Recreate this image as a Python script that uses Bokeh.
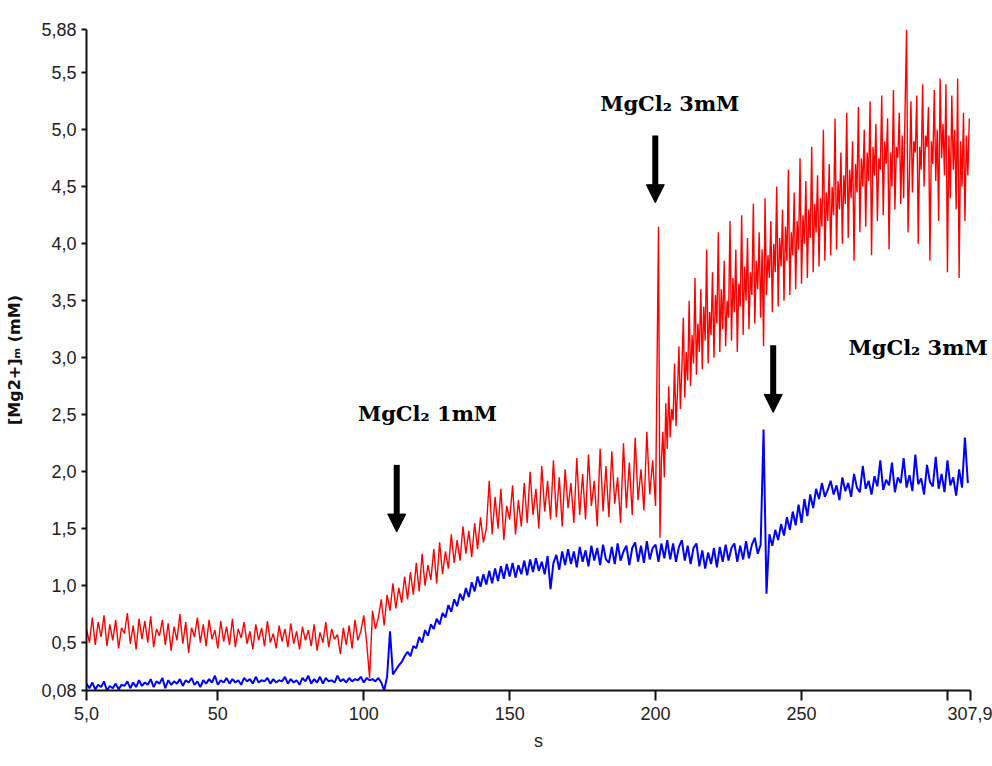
from bokeh.plotting import figure
from bokeh.models import Range1d, FixedTicker, CustomJSTickFormatter, Arrow, NormalHead, Label
from bokeh.embed import file_html
from bokeh.resources import INLINE

# ---- data ----
time_s = list(range(5, 308))                       # blue trace, 1 s apart
red_time_a = list(range(5, 201))                   # red trace before 2nd addition, 1 s apart
red_time_b = [201 + 0.5 * i for i in range(214)]   # red trace after 2nd addition, 0.5 s apart

red_mM_a = [
    0.62, 0.50, 0.72, 0.48, 0.68, 0.55, 0.74, 0.47, 0.66, 0.52,
    0.70, 0.45, 0.63, 0.58, 0.76, 0.49, 0.65, 0.44, 0.71, 0.53,
    0.69, 0.50, 0.73, 0.46, 0.62, 0.56, 0.70, 0.48, 0.67, 0.43,
    0.64, 0.52, 0.75, 0.49, 0.68, 0.41, 0.63, 0.55, 0.72, 0.50,
    0.66, 0.47, 0.70, 0.53, 0.61, 0.45, 0.69, 0.51, 0.64, 0.48,
    0.71, 0.46, 0.62, 0.54, 0.68, 0.49, 0.60, 0.44, 0.66, 0.52,
    0.63, 0.47, 0.69, 0.50, 0.58, 0.45, 0.65, 0.51, 0.62, 0.46,
    0.67, 0.49, 0.60, 0.44, 0.64, 0.52, 0.61, 0.47, 0.66, 0.43,
    0.59, 0.50, 0.68, 0.46, 0.62, 0.53, 0.57, 0.40, 0.63, 0.48,
    0.65, 0.45, 0.70, 0.52, 0.60, 0.74, 0.50, 0.19, 0.78, 0.62,
    0.72, 0.88, 0.65, 0.92, 0.78, 1.02, 0.80, 0.98, 0.85, 1.08,
    0.88, 1.12, 0.92, 1.20, 0.95, 1.28, 1.00, 1.18, 1.05, 1.32,
    1.02, 1.38, 1.10, 1.30, 1.15, 1.45, 1.20, 1.40, 1.22, 1.52,
    1.28, 1.48, 1.25, 1.55, 1.32, 1.60, 1.38, 1.50, 1.92, 1.45,
    1.78, 1.50, 1.85, 1.40, 1.70, 1.58, 1.88, 1.45, 1.75, 1.52,
    1.90, 1.55, 2.00, 1.62, 1.85, 1.50, 2.05, 1.65, 1.92, 1.58,
    2.10, 1.60, 1.95, 1.52, 2.02, 1.68, 1.90, 1.55, 2.12, 1.62,
    1.98, 1.58, 2.15, 1.70, 1.92, 1.52, 2.20, 1.65, 2.05, 1.60,
    2.18, 1.72, 1.95, 1.55, 2.25, 1.68, 2.08, 1.62, 2.30, 1.75,
    2.02, 1.66, 2.35, 1.80, 2.10, 1.70,
]

red_mM_b = [
    4.15, 1.42, 2.10, 2.35, 1.95, 2.60, 2.20, 2.75, 2.30, 2.55,
    2.45, 2.95, 2.40, 2.70, 3.10, 2.55, 2.90, 3.35, 2.65, 3.05,
    2.80, 3.50, 2.75, 3.20, 2.95, 3.70, 2.85, 3.30, 3.05, 3.60,
    2.90, 3.45, 3.15, 3.95, 2.95, 3.40, 3.20, 3.75, 3.00, 3.55,
    3.30, 4.10, 3.05, 3.60, 3.25, 3.85, 3.10, 3.50, 3.35, 4.20,
    3.15, 3.70, 3.40, 3.95, 3.05, 3.65, 3.45, 4.25, 3.20, 3.80,
    3.50, 4.05, 3.25, 3.75, 3.55, 4.35, 3.30, 3.85, 3.60, 4.10,
    3.35, 3.95, 3.10, 4.40, 3.55, 3.90, 3.70, 4.20, 3.40, 4.00,
    3.75, 4.50, 3.45, 4.05, 3.80, 4.30, 3.50, 4.15, 3.85, 4.65,
    3.55, 4.10, 3.90, 4.45, 3.60, 4.20, 3.95, 4.75, 3.65, 4.25,
    4.00, 4.55, 3.70, 4.30, 4.05, 4.85, 3.75, 4.35, 4.10, 4.60,
    3.80, 4.40, 4.15, 5.00, 3.85, 4.45, 4.20, 4.70, 3.90, 4.50,
    4.25, 5.10, 3.95, 4.55, 4.30, 4.80, 4.00, 4.60, 4.35, 5.15,
    4.05, 4.65, 4.40, 4.90, 3.85, 4.70, 4.45, 5.20, 4.10, 4.75,
    4.50, 5.00, 4.15, 4.80, 4.55, 5.25, 3.90, 4.85, 4.60, 5.05,
    4.20, 4.75, 4.65, 5.30, 4.25, 4.90, 4.70, 5.10, 3.95, 4.80,
    4.50, 5.35, 4.30, 4.85, 4.75, 5.15, 4.35, 4.95, 4.40, 5.20,
    5.88, 4.10, 4.60, 5.25, 4.45, 4.90, 4.80, 5.30, 4.00, 4.85,
    4.65, 5.40, 4.50, 4.95, 4.85, 5.20, 3.85, 4.90, 4.70, 5.35,
    4.55, 5.00, 4.20, 5.45, 4.75, 5.05, 4.60, 5.40, 3.75, 4.95,
    4.40, 5.30, 4.65, 5.00, 4.30, 5.45, 3.70, 4.90, 4.50, 5.15,
    4.20, 4.95, 4.60, 5.10,
]

blue_mM = [
    0.14, 0.10, 0.15, 0.09, 0.13, 0.11, 0.16, 0.08, 0.12, 0.10,
    0.14, 0.09, 0.13, 0.12, 0.16, 0.10, 0.15, 0.11, 0.17, 0.12,
    0.15, 0.13, 0.18, 0.11, 0.16, 0.14, 0.19, 0.10, 0.17, 0.13,
    0.16, 0.14, 0.18, 0.12, 0.17, 0.15, 0.19, 0.13, 0.16, 0.11,
    0.17, 0.14, 0.18, 0.15, 0.21, 0.13, 0.17, 0.15, 0.19, 0.14,
    0.18, 0.15, 0.17, 0.13, 0.19, 0.16, 0.18, 0.14, 0.20, 0.15,
    0.17, 0.16, 0.19, 0.14, 0.18, 0.15, 0.17, 0.16, 0.20, 0.14,
    0.18, 0.15, 0.17, 0.13, 0.19, 0.16, 0.21, 0.14, 0.18, 0.15,
    0.20, 0.14, 0.19, 0.16, 0.17, 0.15, 0.21, 0.16, 0.18, 0.15,
    0.19, 0.16, 0.18, 0.17, 0.20, 0.15, 0.19, 0.17, 0.18, 0.16,
    0.19, 0.15, 0.08, 0.20, 0.60, 0.22, 0.26, 0.30, 0.33, 0.38,
    0.42, 0.38, 0.47, 0.45, 0.55, 0.50, 0.61, 0.56, 0.66, 0.62,
    0.71, 0.66, 0.76, 0.72, 0.83, 0.77, 0.88, 0.82, 0.93, 0.87,
    0.98, 0.90, 1.03, 0.95, 1.08, 0.99, 1.10, 1.01, 1.13, 1.02,
    1.15, 1.04, 1.17, 1.06, 1.19, 1.08, 1.20, 1.07, 1.18, 1.10,
    1.22, 1.09, 1.23, 1.12, 1.24, 1.13, 1.21, 1.10, 1.26, 0.97,
    1.20, 1.27, 1.14, 1.30, 1.18, 1.32, 1.19, 1.30, 1.16, 1.34,
    1.21, 1.31, 1.17, 1.35, 1.22, 1.33, 1.18, 1.36, 1.23, 1.20,
    1.34, 1.19, 1.37, 1.22, 1.30, 1.35, 1.18, 1.33, 1.38, 1.21,
    1.35, 1.20, 1.39, 1.23, 1.33, 1.36, 1.21, 1.37, 1.24, 1.40,
    1.23, 1.37, 1.21, 1.34, 1.40, 1.22, 1.35, 1.19, 1.33, 1.37,
    1.17, 1.31, 1.15, 1.29, 1.19, 1.33, 1.16, 1.34, 1.21, 1.36,
    1.22, 1.33, 1.37, 1.21, 1.35, 1.23, 1.39, 1.24, 1.36, 1.42,
    1.28, 1.36, 2.37, 0.93, 1.45, 1.35, 1.49, 1.40, 1.54, 1.44,
    1.60, 1.49, 1.65, 1.53, 1.71, 1.55, 1.76, 1.61, 1.80, 1.68,
    1.85, 1.76, 1.90, 1.78, 1.84, 1.92, 1.80, 1.88, 1.75, 1.95,
    1.83, 1.90, 1.78, 1.98, 1.86, 1.82, 2.05, 1.85, 1.92, 1.80,
    1.96, 1.87, 2.10, 1.84, 1.93, 1.88, 2.08, 1.82, 1.95, 1.90,
    2.12, 1.86, 1.97, 1.83, 2.15, 1.89, 1.94, 1.80, 2.06, 1.91,
    1.87, 2.13, 1.85, 1.98, 1.82, 2.10, 1.88, 1.95, 1.79, 2.02,
    1.86, 2.30, 1.90,
]

x_ticks = [5.0, 50, 100, 150, 200, 250, 300, 307.9]
x_tick_labels = ["5,0", "50", "100", "150", "200", "250", "", "307,9"]
y_ticks = [0.08, 0.5, 1.0, 1.5, 2.0, 2.5, 3.0, 3.5, 4.0, 4.5, 5.0, 5.5, 5.88]
y_tick_labels = ["0,08", "0,5", "1,0", "1,5", "2,0", "2,5", "3,0", "3,5",
                 "4,0", "4,5", "5,0", "5,5", "5,88"]

notes = ["MgCl\u2082 1mM", "MgCl\u2082 3mM", "MgCl\u2082 3mM"]
note_x = [98.0, 181.0, 266.1]
note_y = [2.51, 5.23, 3.09]
arrow_x = [111.3, 199.9, 240.3]
arrow_top = [2.06, 4.95, 3.11]
arrow_tip = [1.47, 4.36, 2.52]

assert len(time_s) == len(blue_mM)
assert len(red_time_a) == len(red_mM_a)
assert len(red_time_b) == len(red_mM_b)

# ---- figure ----
# frame is widened to the right so the last note is not clipped; the x axis
# line itself is bounded to 5.0 .. 307.9
p = figure(width=992, height=766, output_backend="svg", toolbar_location=None,
           x_range=Range1d(5.0, 314.76), y_range=Range1d(0.08, 5.88),
           min_border_left=86, min_border_right=2, min_border_top=29,
           min_border_bottom=76)
p.outline_line_color = None
p.xgrid.visible = False
p.ygrid.visible = False
p.background_fill_color = "white"
p.border_fill_color = "white"

p.line(time_s, blue_mM, color="#0000ff", line_width=2)
p.line(red_time_a + red_time_b, red_mM_a + red_mM_b, color="#ff0000", line_width=1.4)

fmt_code = """
const i = tvals.findIndex(t => Math.abs(t - tick) < 1e-6);
return i >= 0 ? tlabels[i] : '';
"""
p.xaxis.ticker = FixedTicker(ticks=x_ticks)
p.xaxis.formatter = CustomJSTickFormatter(args=dict(tvals=x_ticks, tlabels=x_tick_labels), code=fmt_code)
p.xaxis.bounds = (5.0, 307.9)
p.yaxis.ticker = FixedTicker(ticks=y_ticks)
p.yaxis.formatter = CustomJSTickFormatter(args=dict(tvals=y_ticks, tlabels=y_tick_labels), code=fmt_code)

for ax in (p.xaxis, p.yaxis):
    ax.axis_line_width = 2
    ax.axis_line_color = "#111111"
    ax.major_tick_line_color = "#111111"
    ax.major_tick_line_width = 2
    ax.major_tick_in = 0
    ax.minor_tick_line_color = None
    ax.major_label_text_font = "Liberation Sans"
    ax.major_label_text_font_size = "18px"
    ax.major_label_text_color = "#222222"

p.xaxis.major_tick_out = 10
p.xaxis.major_label_standoff = 6
p.yaxis.major_tick_out = 5
p.yaxis.major_label_standoff = 5

p.xaxis.axis_label = "s"
p.xaxis.axis_label_text_font = "Liberation Sans"
p.xaxis.axis_label_text_font_style = "normal"
p.xaxis.axis_label_text_font_size = "18px"
p.xaxis.axis_label_text_color = "#222222"
p.xaxis.axis_label_standoff = 8

p.yaxis.axis_label = "[Mg2+]\u2098 (mM)"
p.yaxis.axis_label_text_font = "DejaVu Sans"
p.yaxis.axis_label_text_font_style = "bold"
p.yaxis.axis_label_text_font_size = "16px"
p.yaxis.axis_label_text_color = "#111111"
p.yaxis.axis_label_standoff = 14

# annotations
for tx, ty, tt in zip(note_x, note_y, notes):
    p.add_layout(Label(x=tx, y=ty, text=tt, text_font="DejaVu Serif",
                       text_font_style="bold", text_font_size="21px",
                       text_color="black", text_baseline="alphabetic",
                       text_align="left"))

for ax_, top, tip in zip(arrow_x, arrow_top, arrow_tip):
    p.add_layout(Arrow(x_start=ax_, y_start=top, x_end=ax_, y_end=tip,
                       line_width=6, line_color="black",
                       end=NormalHead(size=18, fill_color="black", line_color="black", line_width=1)))

open("out.html", "w").write(file_html(p, INLINE))
